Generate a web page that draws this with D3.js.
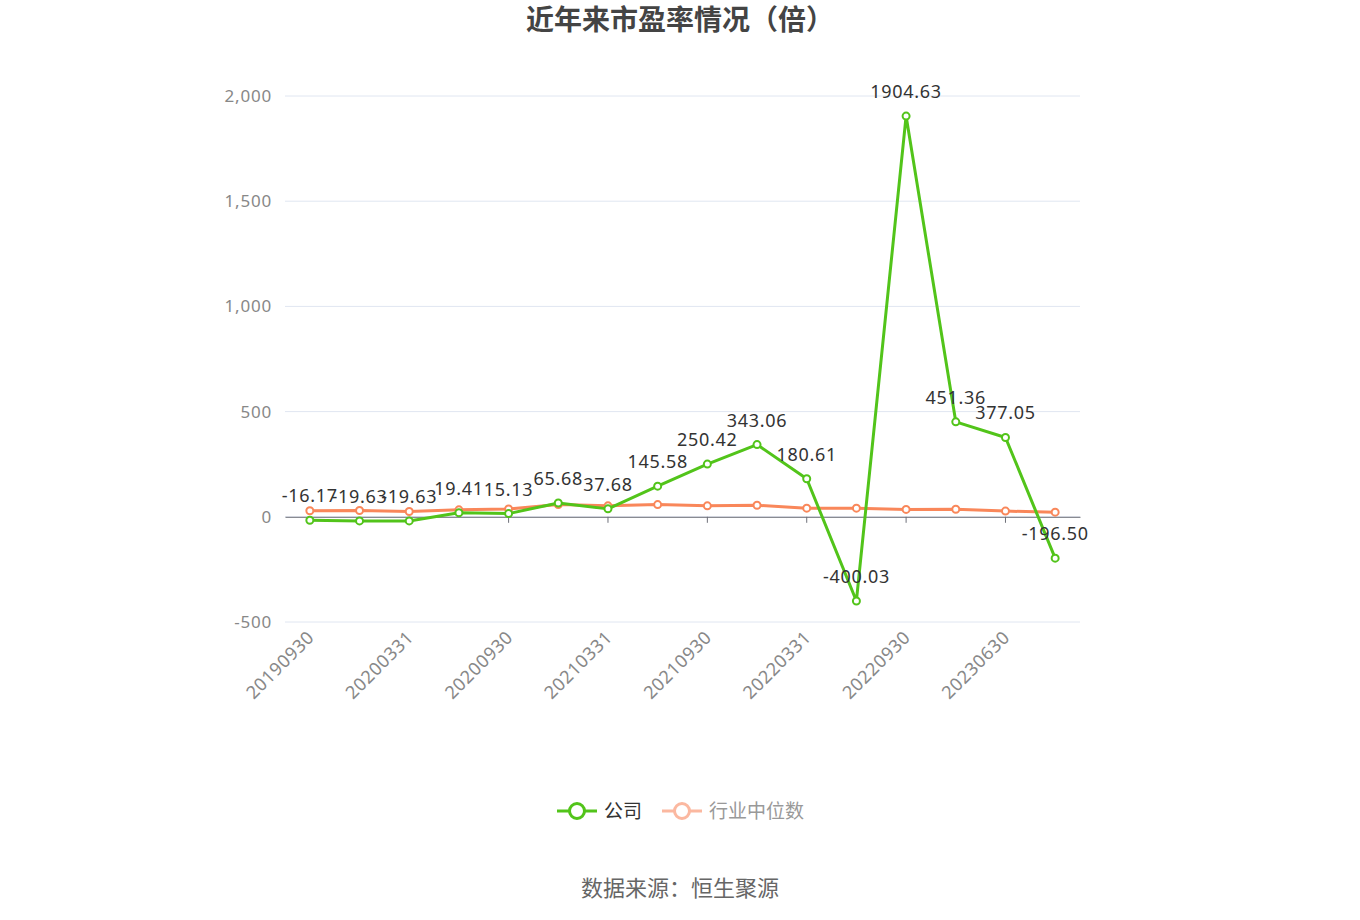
<!DOCTYPE html>
<html>
<head>
<meta charset="utf-8">
<script src="https://cdn.jsdelivr.net/npm/d3@7"></script>
<style>
  body { margin: 0; background: #fff; }
  text { font-family: "Noto Sans", "Noto Sans CJK SC", sans-serif; }
</style>
</head>
<body>
<div id="chart"></div>
<script>
// report dates (16 periods), only every second one is labelled
var dates = ["20190930", "20191231", "20200331", "20200630", "20200930", "20201231",
  "20210331", "20210630", "20210930", "20211231", "20220331", "20220630",
  "20220930", "20221231", "20230630", "20230930"];
var company = [-16.17, -19.63, -19.63, 19.41, 15.13, 65.68, 37.68, 145.58,
  250.42, 343.06, 180.61, -400.03, 1904.63, 451.36, 377.05, -196.50];
var industry = [29, 30, 25, 33, 37, 58, 52, 58, 52, 55, 41, 41, 35, 36, 27, 22];
var yTicks = [-500, 0, 500, 1000, 1500, 2000];

var W = 1360, H = 920;
var margin = { top: 96, right: 280, bottom: 298, left: 285 },
  width = W - margin.left - margin.right,
  height = H - margin.top - margin.bottom;

var green = "#52c41a", orange = "#f9875a";

var svg = d3.select("#chart").append("svg")
  .attr("width", W)
  .attr("height", H);

svg.append("text")
  .attr("x", W / 2)
  .attr("y", 30)
  .attr("text-anchor", "middle")
  .style("font-size", "28px")
  .style("font-weight", "bold")
  .style("fill", "#444")
  .text("近年来市盈率情况（倍）");

var g = svg.append("g")
  .attr("transform", "translate(" + margin.left + "," + margin.top + ")");

var xScale = d3.scaleBand()
  .domain(dates)
  .range([0, width]);

var yScale = d3.scaleLinear()
  .domain([-500, 2000])
  .range([height, 0]);

function cx(d, i) { return xScale(dates[i]) + xScale.bandwidth() / 2; }

// grid lines
g.append("g")
  .selectAll("line")
  .data(yTicks)
  .enter().append("line")
  .attr("x1", 0)
  .attr("x2", width)
  .attr("y1", function(d) { return yScale(d); })
  .attr("y2", function(d) { return yScale(d); })
  .attr("stroke", "#e0e6f1")
  .attr("stroke-width", 1);

// y axis labels (plain hyphen for negatives)
var yAxis = g.append("g")
  .call(d3.axisLeft(yScale).tickValues(yTicks).tickSize(0).tickPadding(13)
    .tickFormat(function(d) { return d3.format(",")(d).replace("−", "-"); }));
yAxis.select(".domain").remove();
yAxis.selectAll("text")
  .style("font-size", "17px")
  .style("letter-spacing", "0.8px")
  .style("fill", "#888")
  .style("font-family", "'Noto Sans', sans-serif");

// x axis on zero line
var labelled = dates.filter(function(d, i) { return i % 2 === 0; });
var xAxis = g.append("g")
  .attr("transform", "translate(0," + yScale(0) + ")")
  .call(d3.axisBottom(xScale).tickValues(labelled).tickSize(6).tickSizeOuter(0)
    .tickFormat(""));
xAxis.select(".domain").attr("stroke", "#6e7079");
xAxis.selectAll(".tick line").attr("stroke", "#6e7079");

// rotated category labels below the plot
g.append("g")
  .selectAll("text")
  .data(labelled)
  .enter().append("text")
  .attr("transform", function(d) {
    var x = xScale(d) + xScale.bandwidth() / 2;
    return "translate(" + (x + 1) + "," + (height + 12) + ") rotate(-45)";
  })
  .attr("text-anchor", "end")
  .attr("dy", "0.35em")
  .style("font-size", "18px")
  .style("letter-spacing", "0.6px")
  .style("fill", "#888")
  .text(function(d) { return d; });

var line = d3.line()
  .x(function(d, i) { return cx(d, i); })
  .y(function(d) { return yScale(d); });

function drawSeries(values, color) {
  g.append("path")
    .datum(values)
    .attr("d", line)
    .attr("fill", "none")
    .attr("stroke", color)
    .attr("stroke-width", 3)
    .attr("stroke-linejoin", "round");
  g.append("g")
    .selectAll("circle")
    .data(values)
    .enter().append("circle")
    .attr("cx", function(d, i) { return cx(d, i); })
    .attr("cy", function(d) { return yScale(d); })
    .attr("r", 3.5)
    .attr("fill", "#fff")
    .attr("stroke", color)
    .attr("stroke-width", 2);
}

drawSeries(industry, orange);
drawSeries(company, green);

// data labels for the company series
g.append("g")
  .selectAll("text")
  .data(company)
  .enter().append("text")
  .attr("x", function(d, i) { return cx(d, i); })
  .attr("y", function(d) { return yScale(d) - 18; })
  .attr("text-anchor", "middle")
  .style("font-size", "18px")
  .style("letter-spacing", "0.7px")
  .style("fill", "#333")
  .text(function(d) { return d.toFixed(2); });

// legend
var legendItems = [
  { name: "公司", icon: green, text: "#333", x: 557 },
  { name: "行业中位数", icon: "#fbb8a0", text: "#999", x: 662 }
];
var legend = svg.append("g").selectAll("g")
  .data(legendItems)
  .enter().append("g")
  .attr("transform", function(d) { return "translate(" + d.x + ",811)"; });
legend.append("line")
  .attr("x1", 0).attr("x2", 40)
  .attr("stroke", function(d) { return d.icon; })
  .attr("stroke-width", 3);
legend.append("circle")
  .attr("cx", 20)
  .attr("r", 7.5)
  .attr("fill", "#fff")
  .attr("stroke", function(d) { return d.icon; })
  .attr("stroke-width", 3);
legend.append("text")
  .attr("x", 47)
  .attr("dy", "0.35em")
  .style("font-size", "19px")
  .style("fill", function(d) { return d.text; })
  .text(function(d) { return d.name; });

svg.append("text")
  .attr("x", W / 2)
  .attr("y", 896)
  .attr("text-anchor", "middle")
  .style("font-size", "22px")
  .style("fill", "#666")
  .text("数据来源：恒生聚源");
</script>
</body>
</html>
